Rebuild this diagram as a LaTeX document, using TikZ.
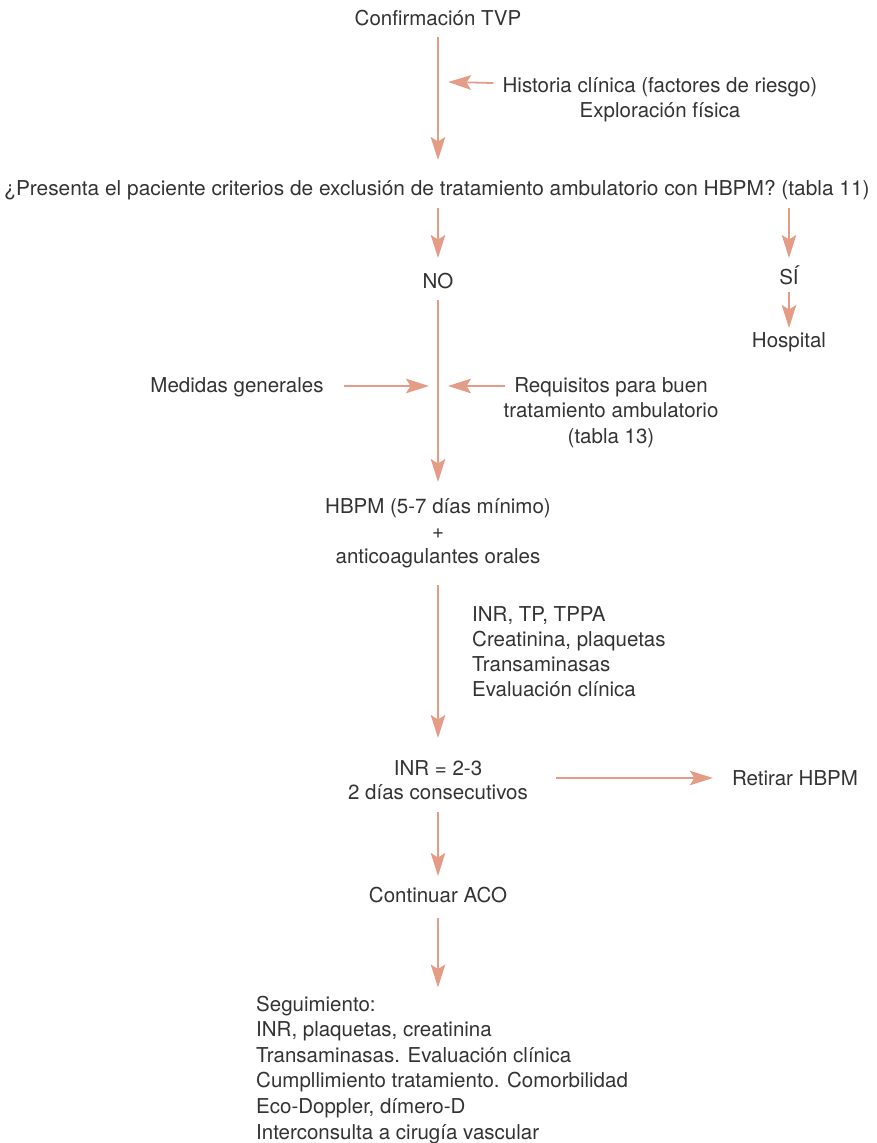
\documentclass[tikz,border=0pt]{standalone}
\usepackage{fontspec}
\setmainfont{TeX Gyre Heros}
\usetikzlibrary{arrows.meta,calc}
\definecolor{arr}{HTML}{E59C86}
\definecolor{txt}{HTML}{333333}
\begin{document}
\begin{tikzpicture}[x=1pt,y=-1pt,
  lbl/.style={inner sep=0pt,text=txt,font=\fontsize{20.5}{25.5}\selectfont},
  flow/.style={draw=arr,line width=1.8pt,-{Stealth[length=23pt,width=14.5pt,inset=4.5pt]}},
  every node/.style={lbl}]
\useasboundingbox (0,0) rectangle (876,1143);
% single-line nodes placed by baseline; multi-line nodes by their last baseline
\node[anchor=base] (conf) at (438,25) {Confirmación TVP};
\node[anchor=base,align=center,font=\fontsize{20.5}{24.5}\selectfont] (hist) at (660,117) {Historia clínica (factores de riesgo)\\Exploración física};
\node[anchor=base] (q) at (437,195) {\scalebox{1.018}[1]{¿Presenta el paciente criterios de exclusión de tratamiento ambulatorio con HBPM? (tabla 11)}};
\node[anchor=base] (no) at (438,288) {NO};
\node[anchor=base] (si) at (789,284) {SÍ};
\node[anchor=base] (hosp) at (789,347) {Hospital};
\node[anchor=base] (med) at (237,392) {Medidas generales};
\node[anchor=base,align=center,font=\fontsize{20.5}{25.5}\selectfont] (req) at (611,443) {Requisitos para buen\\tratamiento ambulatorio\\(tabla 13)};
\node[anchor=base,align=center,font=\fontsize{20.5}{25}\selectfont] (hbpm) at (438,563) {HBPM (5-7 días mínimo)\\+\\anticoagulantes orales};
\node[anchor=base west,align=left,font=\fontsize{20.5}{24.8}\selectfont] (lab) at (472,696) {INR, TP, TPPA\\Creatinina, plaquetas\\Transaminasas\\Evaluación clínica};
\node[anchor=base,align=center,font=\fontsize{20.5}{24}\selectfont] (inr) at (438,799) {INR = 2-3\\2 días consecutivos};
\node[anchor=base] (ret) at (795,785) {Retirar HBPM};
\node[anchor=base] (cont) at (438,902) {Continuar ACO};
\node[anchor=base west,align=left,font=\fontsize{20.5}{25.6}\selectfont] (seg) at (256,1139) {Seguimiento:\\INR, plaquetas, creatinina\\Transaminasas. Evaluación clínica\\Cumpllimiento tratamiento. Comorbilidad\\Eco-Doppler, dímero-D\\Interconsulta a cirugía vascular};
% connectors
\draw[flow] ($(conf.base)+(0,12)$) -- ($(conf.base |- q.base)+(0,-35)$);
\draw[flow] ($(hist.base west)+(-9,-34)$) -- ($(conf.base)+(10,57)$);
\draw[flow] ($(no.base |- q.base)+(0,13)$) -- ($(no.base)+(0,-30)$);
\draw[flow] ($(si.base |- q.base)+(0,13)$) -- ($(si.base)+(0,-26)$);
\draw[flow] ($(si.base)+(0,8)$) -- ($(hosp.base)+(0,-19)$);
\draw[flow] ($(no.base)+(0,12)$) -- ($(hbpm.base)+(0,-81)$);
\draw[flow] ($(med.base east)+(20,-6)$) -- ($(no.base)+(-9,98)$);
\draw[flow] ($(req.base west)+(2,-57)$) -- ($(no.base)+(10,98)$);
\draw[flow] ($(hbpm.base)+(0,22)$) -- ($(inr.base)+(0,-61)$);
\draw[flow] ($(inr.base east)+(28,-21)$) -- ($(ret.base west)+(-19,-7)$);
\draw[flow] ($(inr.base)+(0,13)$) -- ($(cont.base)+(0,-26)$);
\draw[flow] ($(cont.base)+(0,16)$) -- ($(seg.north -| cont.base)+(0,-8)$);
\end{tikzpicture}
\end{document}
